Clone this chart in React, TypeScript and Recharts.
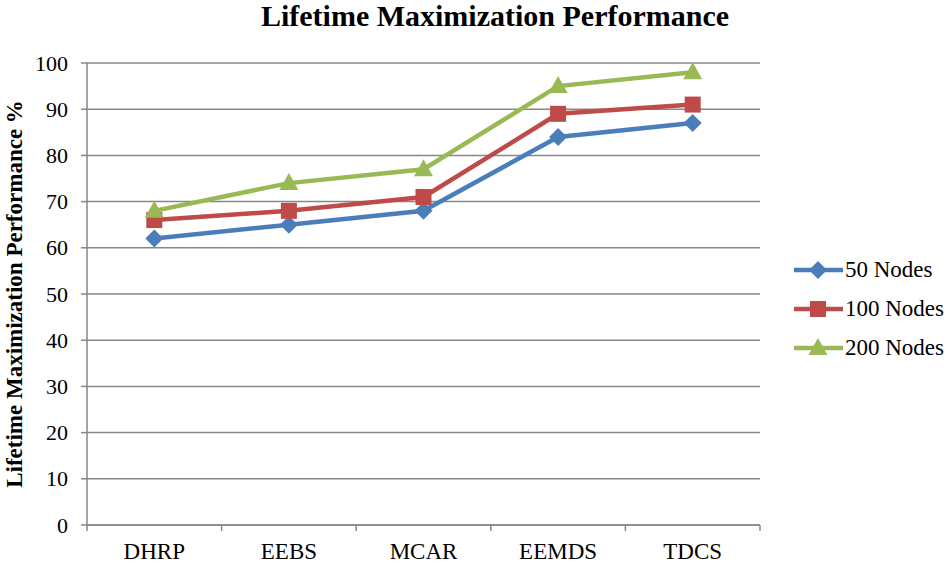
import React from 'react';
import { LineChart, Line, XAxis, YAxis, CartesianGrid, Legend } from 'recharts';

const categories = ['DHRP', 'EEBS', 'MCAR', 'EEMDS', 'TDCS'];
const nodes50 = [62, 65, 68, 84, 87];
const nodes100 = [66, 68, 71, 89, 91];
const nodes200 = [68, 74, 77, 95, 98];
const yTicks = [0, 10, 20, 30, 40, 50, 60, 70, 80, 90, 100];
const boundaryTicks = [0, 1, 2, 3, 4, 5];

const BLUE = '#4A7EBB';
const RED = '#BE4B48';
const GREEN = '#98B954';
const GRID = '#878787';
const FONT = "'Liberation Serif', 'Times New Roman', serif";

const data = categories.map((c, i) => ({
  name: c,
  pos: i + 0.5,
  n50: nodes50[i],
  n100: nodes100[i],
  n200: nodes200[i],
}));

type Shape = 'diamond' | 'square' | 'triangle';

const marker = (shape: Shape, cx: number, cy: number, color: string, key?: any) => {
  if (shape === 'diamond') {
    return <polygon key={key} points={`${cx},${cy - 9} ${cx + 9},${cy} ${cx},${cy + 9} ${cx - 9},${cy}`} fill={color} />;
  }
  if (shape === 'square') {
    return <rect key={key} x={cx - 8} y={cy - 8} width={16} height={16} fill={color} />;
  }
  return <polygon key={key} points={`${cx},${cy - 10} ${cx + 9.5},${cy + 7} ${cx - 9.5},${cy + 7}`} fill={color} />;
};

const makeDot = (shape: Shape, color: string) => (props: any) => {
  const { cx, cy, index } = props;
  if (cx == null || cy == null) return <g key={index} />;
  return marker(shape, cx, cy, color, index);
};

const series = [
  { key: 'n50', label: '50 Nodes', color: BLUE, shape: 'diamond' as Shape },
  { key: 'n100', label: '100 Nodes', color: RED, shape: 'square' as Shape },
  { key: 'n200', label: '200 Nodes', color: GREEN, shape: 'triangle' as Shape },
];

const XTick = (props: any) => {
  const { x, payload, width } = props;
  const v = payload.value;
  if (v >= categories.length) return <g />;
  const half = (width || 673) / categories.length / 2;
  return (
    <text x={x + half} y={559} textAnchor="middle" style={{ fontFamily: FONT, fontSize: 23, fill: '#000' }}>
      {categories[v]}
    </text>
  );
};

const YTick = (props: any) => {
  const { x, y, payload } = props;
  return (
    <text x={x} y={y + 7.5} textAnchor="end" style={{ fontFamily: FONT, fontSize: 22, fill: '#000' }}>
      {payload.value}
    </text>
  );
};

const LegendContent = () => (
  <div style={{ width: 190, fontFamily: FONT, fontSize: 23, color: '#000' }}>
    {series.map((s) => (
      <div key={s.key} style={{ height: 39, display: 'flex', alignItems: 'center' }}>
        <svg width={85} height={24} style={{ flex: 'none' }}>
          <line x1={34} y1={12} x2={83} y2={12} stroke={s.color} strokeWidth={4.5} />
          {marker(s.shape, 58, 12, s.color)}
        </svg>
        <span style={{ whiteSpace: 'nowrap' }}>{s.label}</span>
      </div>
    ))}
  </div>
);

export default function App() {
  return (
    <div style={{ position: 'absolute', left: 0, top: 0, width: 950, height: 564, background: '#fff', fontFamily: FONT }}>
      <div
        style={{
          position: 'absolute',
          left: 0,
          top: 0,
          width: 950,
          paddingLeft: 40,
          boxSizing: 'border-box',
          textAlign: 'center',
          fontFamily: FONT,
          fontWeight: 'bold',
          fontSize: 30,
          lineHeight: '32px',
          color: '#000',
        }}
      >
        Lifetime Maximization Performance
      </div>
      <LineChart
        width={950}
        height={564}
        data={data}
        margin={{ top: 63, right: 0, bottom: 0, left: 0 }}
        style={{ fontFamily: FONT }}
      >
        <CartesianGrid vertical={false} stroke={GRID} strokeWidth={1.5} />
        <XAxis
          dataKey="pos"
          type="number"
          domain={[0, 5]}
          ticks={boundaryTicks}
          interval={0}
          height={39}
          axisLine={{ stroke: GRID, strokeWidth: 1.5 }}
          tickLine={{ stroke: GRID, strokeWidth: 1.5 }}
          tickSize={6}
          tick={<XTick />}
        />
        <YAxis
          width={87}
          domain={[0, 100]}
          ticks={yTicks}
          interval={0}
          axisLine={{ stroke: GRID, strokeWidth: 1.5 }}
          tickLine={{ stroke: GRID, strokeWidth: 1.5 }}
          tickSize={6}
          tickMargin={13}
          tick={<YTick />}
          label={{
            content: () => (
              <text
                x={22}
                y={294}
                transform="rotate(-90 22 294)"
                textAnchor="middle"
                style={{ fontFamily: FONT, fontWeight: 'bold', fontSize: 23, fill: '#000' }}
              >
                Lifetime Maximization Performance %
              </text>
            ),
          }}
        />
        <Legend
          layout="vertical"
          align="right"
          verticalAlign="top"
          content={() => <LegendContent />}
          wrapperStyle={{ top: 250, right: 0, width: 190 }}
        />
        {series.map((s) => (
          <Line
            key={s.key}
            dataKey={s.key}
            stroke={s.color}
            strokeWidth={4.5}
            dot={makeDot(s.shape, s.color)}
            activeDot={false}
            isAnimationActive={false}
          />
        ))}
      </LineChart>
    </div>
  );
}
